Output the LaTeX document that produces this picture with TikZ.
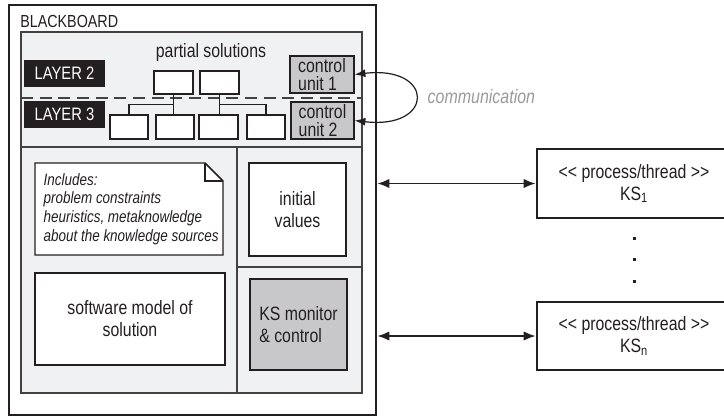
\documentclass[tikz,border=0pt]{standalone}
\usepackage{fontspec}
\setmainfont{Liberation Sans}[FakeStretch=0.82, Ligatures=TeXOff]
\usetikzlibrary{arrows.meta}
\definecolor{ink}{HTML}{231F20}
\definecolor{panel}{HTML}{F0F1F3}
\definecolor{unit}{HTML}{C8C8CA}
\definecolor{faint}{HTML}{9A9A9C}
\tikzset{
  sz/.style 2 args={minimum width={#1*0.75pt}, minimum height={#2*0.75pt}},
  cell/.style={draw=ink, line width=1.1pt, fill=white, inner sep=0pt},
  ctrl/.style={cell, fill=unit, align=left},
  layer/.style={fill=ink, text=white, inner sep=0pt, font=\fontsize{13.5}{15}\selectfont},
  proc/.style={draw=ink, line width=1.9pt, fill=white, inner sep=0pt, align=center},
  link/.style={draw=ink, line width=1.4pt, {Latex[length=9pt,width=7pt]}-{Latex[length=9pt,width=7pt]}}
}

\begin{document}
\begin{tikzpicture}[x=0.75pt, y=-0.75pt, text=ink, font=\fontsize{14.5}{16.5}\selectfont]
  \useasboundingbox (0,0) rectangle (724,415);
  \clip (0,0) rectangle (724,415);
  \node[draw=ink, line width=1.9pt, fill=white, inner sep=0pt, sz={367}{410.5}] (bb) at (192.5,210.25) {};
  \node[draw=ink!85, fill=panel, line width=0.9pt, inner sep=0pt, sz={341}{361}] (board) at (191.5,212.5) {};
  \node[anchor=west, inner sep=0pt, font=\fontsize{13.1}{15}\selectfont] (title) at (20,21.5) {BLACKBOARD};
  \draw[ink!85, line width=0.9pt, dash pattern=on 9pt off 5pt] (21,98) -- (362,98);
  \draw[ink!85, line width=0.9pt] (21,147) -- (362,147) (237,147) -- (237,393) (237,267) -- (362,267);
  \node (parts) at (211,52) {partial solutions};
  \node[layer, sz={81}{27}] (l2) at (64.5,73.5) {LAYER 2};
  \node[layer, sz={81}{27}] (l3) at (64.5,114.5) {LAYER 3};
  \node[cell, sz={39}{23}] (t1) at (173.5,82.5) {};
  \node[cell, sz={39}{23}] (t2) at (219.5,82.5) {};
  \node[cell, sz={38}{24}] (b1) at (129,127) {};
  \node[cell, sz={38}{24}] (b2) at (175,127) {};
  \node[cell, sz={39}{24}] (b3) at (218.5,127) {};
  \node[cell, sz={38}{24}] (b4) at (266,127) {};
  \draw[ink, line width=0.9pt] (t1.south) -- (t1.south |- b2.north);
  \draw[ink, line width=0.9pt] (b1.north) -- ++(0,-9.5) -| (t1.south);
  \draw[ink, line width=0.9pt] (t2.south) -- (t2.south |- b3.north);
  \draw[ink, line width=0.9pt] (b4.north) -- ++(0,-9.5) -| (t2.south);
  \node[ctrl, sz={64}{37}, font=\fontsize{14.5}{13.5}\selectfont] (cu1) at (322,74.5) {control\\unit 1};
  \node[ctrl, sz={63}{37}, font=\fontsize{14.5}{13.5}\selectfont] (cu2) at (322.5,120.5) {control\\unit 2};
  \draw[cell] (35,163) -- (205,163) -- (223,181) -- (223,255) -- (35,255) -- cycle;
  \draw[ink, line width=1.1pt] (205,163) -- (205,181) -- (223,181);
  \node[anchor=west, align=left, font=\fontsize{12.3}{13.9}\selectfont\itshape] (incl) at (39,209) {Includes:\\problem constraints\\heuristics, metaknowledge\\about the knowledge sources};
  \node[cell, sz={97}{93}, align=center] (init) at (297.5,209.5) {initial\\values};
  \node[cell, sz={190}{92}, align=center] (model) at (130,319) {software model of\\solution};
  \node[ctrl, sz={97}{91}] (mon) at (298.5,324.5) {KS monitor\\\& control};
  \node[proc, sz={194}{69}] (ks1) at (634,183.5) {<< process/thread >>\\KS\textsubscript{1}};
  \node[proc, sz={194}{68}] (ksn) at (634,336) {<< process/thread >>\\KS\textsubscript{n}};
  \draw[link] (bb.east |- ks1.west) -- (ks1.west);
  \draw[link] (bb.east |- ksn.west) -- (ksn.west);
  \foreach \y in {238,259,281}
    \fill[ink] (632.5,\y-1.5) rectangle ++(3,3);
  \draw[ink, line width=0.9pt, {Latex[length=8pt,width=6pt]}-{Latex[length=8pt,width=6pt]}] (cu1.east) .. controls (435,65) and (435,130) .. (cu2.east);
  \node[anchor=west, text=faint, font=\fontsize{14.6}{16}\selectfont\itshape] (comm) at (423,97) {communication};
\end{tikzpicture}
\end{document}
